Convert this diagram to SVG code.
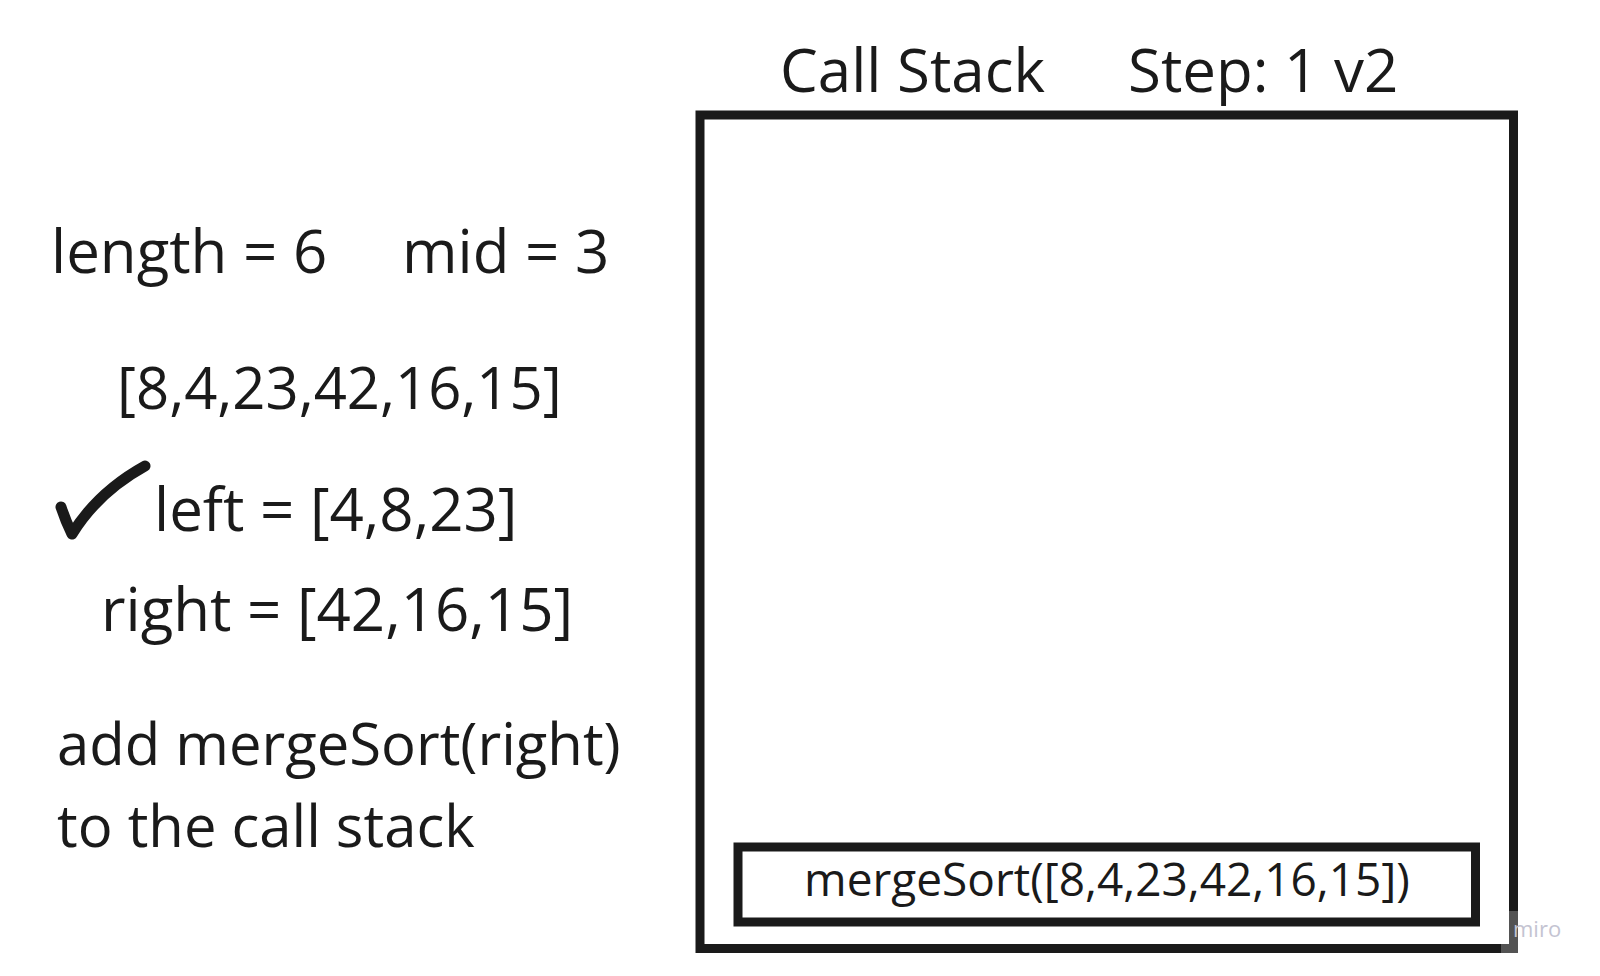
<svg xmlns="http://www.w3.org/2000/svg" width="1600" height="976" viewBox="0 0 1600 976">
<style>
.t{font-family:"Open Sans","Noto Sans","Liberation Sans",sans-serif;fill:#1a1a1a;font-size:60px}
.m{font-size:58px}
.s{font-size:46px}
.box{fill:none;stroke:#1a1a1a;stroke-width:9}
</style>
<rect width="1600" height="976" fill="#ffffff"/>
<g id="title"><text class="t" x="780" y="92">Call Stack</text><text class="t" x="1128" y="92">Step: 1 v2</text></g>
<g id="stack"><rect class="box" x="700" y="115" width="813.5" height="833.5"/></g>
<g id="frame1"><rect class="box" x="738" y="847" width="737.5" height="75"/><text class="t s" x="1107" y="896" text-anchor="middle">mergeSort([8,4,23,42,16,15])</text></g>
<g id="notes">
<text class="t" x="51" y="273">length = 6</text>
<text class="t" x="402" y="273">mid = 3</text>
<text class="t m" x="117" y="409">[8,4,23,42,16,15]</text>
<path d="M61 507 Q66 522 72 534 Q98 492 145 466" fill="none" stroke="#1a1a1a" stroke-width="11" stroke-linecap="round" stroke-linejoin="round"/>
<text class="t" x="154" y="531">left = [4,8,23]</text>
<text class="t" x="101" y="631">right = [42,16,15]</text>
<text class="t m" x="57" y="765">add mergeSort(right)</text>
<text class="t m" x="57" y="847">to the call stack</text>
</g>
<g id="watermark"><rect x="1501" y="911" width="17" height="42" fill="#ffffff" opacity="0.25"/><text x="1513" y="937" font-family="Open Sans,sans-serif" font-size="22" fill="#c4c4d2">miro</text></g>
</svg>
